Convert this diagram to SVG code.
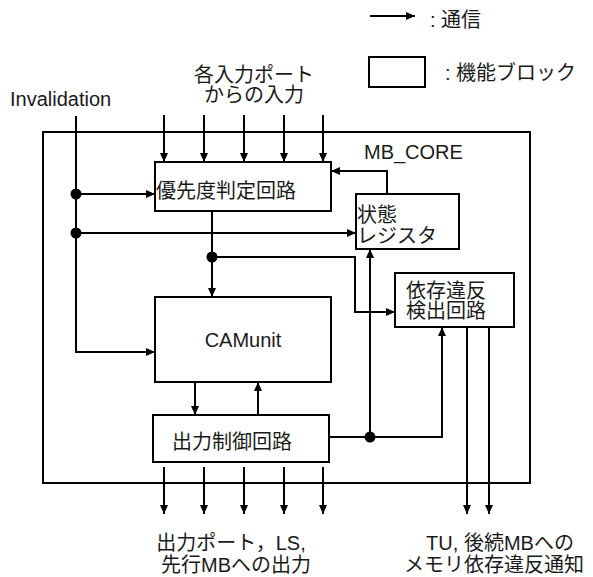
<svg xmlns="http://www.w3.org/2000/svg" width="593" height="577" viewBox="0 0 593 577">
<style>
.box{fill:#fff;stroke:#000;stroke-width:2}
.ln{fill:none;stroke:#000;stroke-width:2}
.ar{fill:none;stroke:#000;stroke-width:2;marker-end:url(#ah)}
.t{font-family:"Liberation Sans","Noto Sans CJK JP",sans-serif;font-size:20px;fill:#1a1a1a}
.m{text-anchor:middle}
</style>
<defs>
<marker id="ah" markerWidth="10" markerHeight="8" refX="9" refY="4" orient="auto" markerUnits="userSpaceOnUse">
<path d="M0,0 L9,4 L0,8 Z" fill="#000"/>
</marker>
</defs>
<rect width="593" height="577" fill="#fff"/>

<g id="legend">
<line class="ar" x1="370" y1="16" x2="415" y2="16"/>
<text class="t" x="430" y="27">: 通信</text>
<rect class="box" x="369" y="57" width="56" height="30"/>
<text class="t" x="445" y="80">: 機能ブロック</text>
</g>

<g id="labels">
<text class="t m" x="254" y="82">各入力ポート</text>
<text class="t m" x="254" y="102">からの入力</text>
<text class="t" x="10" y="106">Invalidation</text>
<text class="t m" x="231" y="550">出力ポート，LS,</text>
<text class="t m" x="236" y="572">先行MBへの出力</text>
<text class="t m" x="500" y="550">TU, 後続MBへの</text>
<text class="t m" x="494" y="572">メモリ依存違反通知</text>
</g>

<g id="mb_core">
<rect class="box" x="43" y="132" width="487" height="351" fill="none" style="fill:none"/>
<text class="t" x="364" y="159">MB_CORE</text>
</g>

<g id="priority">
<rect class="box" x="155" y="162" width="176" height="49"/>
<text class="t" x="156" y="198">優先度判定回路</text>
</g>

<g id="state">
<rect class="box" x="356" y="194" width="103" height="55"/>
<text class="t" x="357" y="222">状態</text>
<text class="t" x="357" y="243">レジスタ</text>
</g>

<g id="dep">
<rect class="box" x="395" y="273" width="119" height="54"/>
<text class="t" x="406" y="298">依存違反</text>
<text class="t" x="406" y="318">検出回路</text>
</g>

<g id="camunit">
<rect class="box" x="155" y="297" width="176" height="85"/>
<text class="t m" x="243" y="347">CAMunit</text>
</g>

<g id="output">
<rect class="box" x="153" y="415" width="176" height="47"/>
<text class="t" x="172" y="449">出力制御回路</text>
</g>

<g id="connectors">
<line class="ar" x1="164" y1="115" x2="164" y2="162"/>
<line class="ar" x1="204" y1="115" x2="204" y2="162"/>
<line class="ar" x1="244" y1="115" x2="244" y2="162"/>
<line class="ar" x1="284" y1="115" x2="284" y2="162"/>
<line class="ar" x1="323" y1="115" x2="323" y2="162"/>

<polyline class="ar" points="76,116 76,352 155,352"/>
<line class="ar" x1="76" y1="194" x2="155" y2="194"/>
<line class="ar" x1="76" y1="233" x2="356" y2="233"/>
<circle cx="76" cy="194" r="5.5"/>
<circle cx="76" cy="233" r="5.5"/>

<polyline class="ar" points="387,194 387,171 331,171"/>

<line class="ar" x1="212" y1="211" x2="212" y2="297"/>
<circle cx="212" cy="257" r="5.5"/>
<polyline class="ar" points="212,257 355,257 355,312 395,312"/>

<line class="ar" x1="195" y1="382" x2="195" y2="415"/>
<line class="ar" x1="258" y1="415" x2="258" y2="382"/>

<polyline class="ar" points="329,437 442,437 442,327"/>
<line class="ar" x1="370" y1="437" x2="370" y2="249"/>
<circle cx="370" cy="437" r="5.5"/>

<line class="ar" x1="467" y1="327" x2="467" y2="514"/>
<line class="ar" x1="489" y1="327" x2="489" y2="514"/>

<line class="ar" x1="164" y1="467" x2="164" y2="514"/>
<line class="ar" x1="204" y1="467" x2="204" y2="514"/>
<line class="ar" x1="244" y1="467" x2="244" y2="514"/>
<line class="ar" x1="284" y1="467" x2="284" y2="514"/>
<line class="ar" x1="323" y1="467" x2="323" y2="514"/>
</g>
</svg>
